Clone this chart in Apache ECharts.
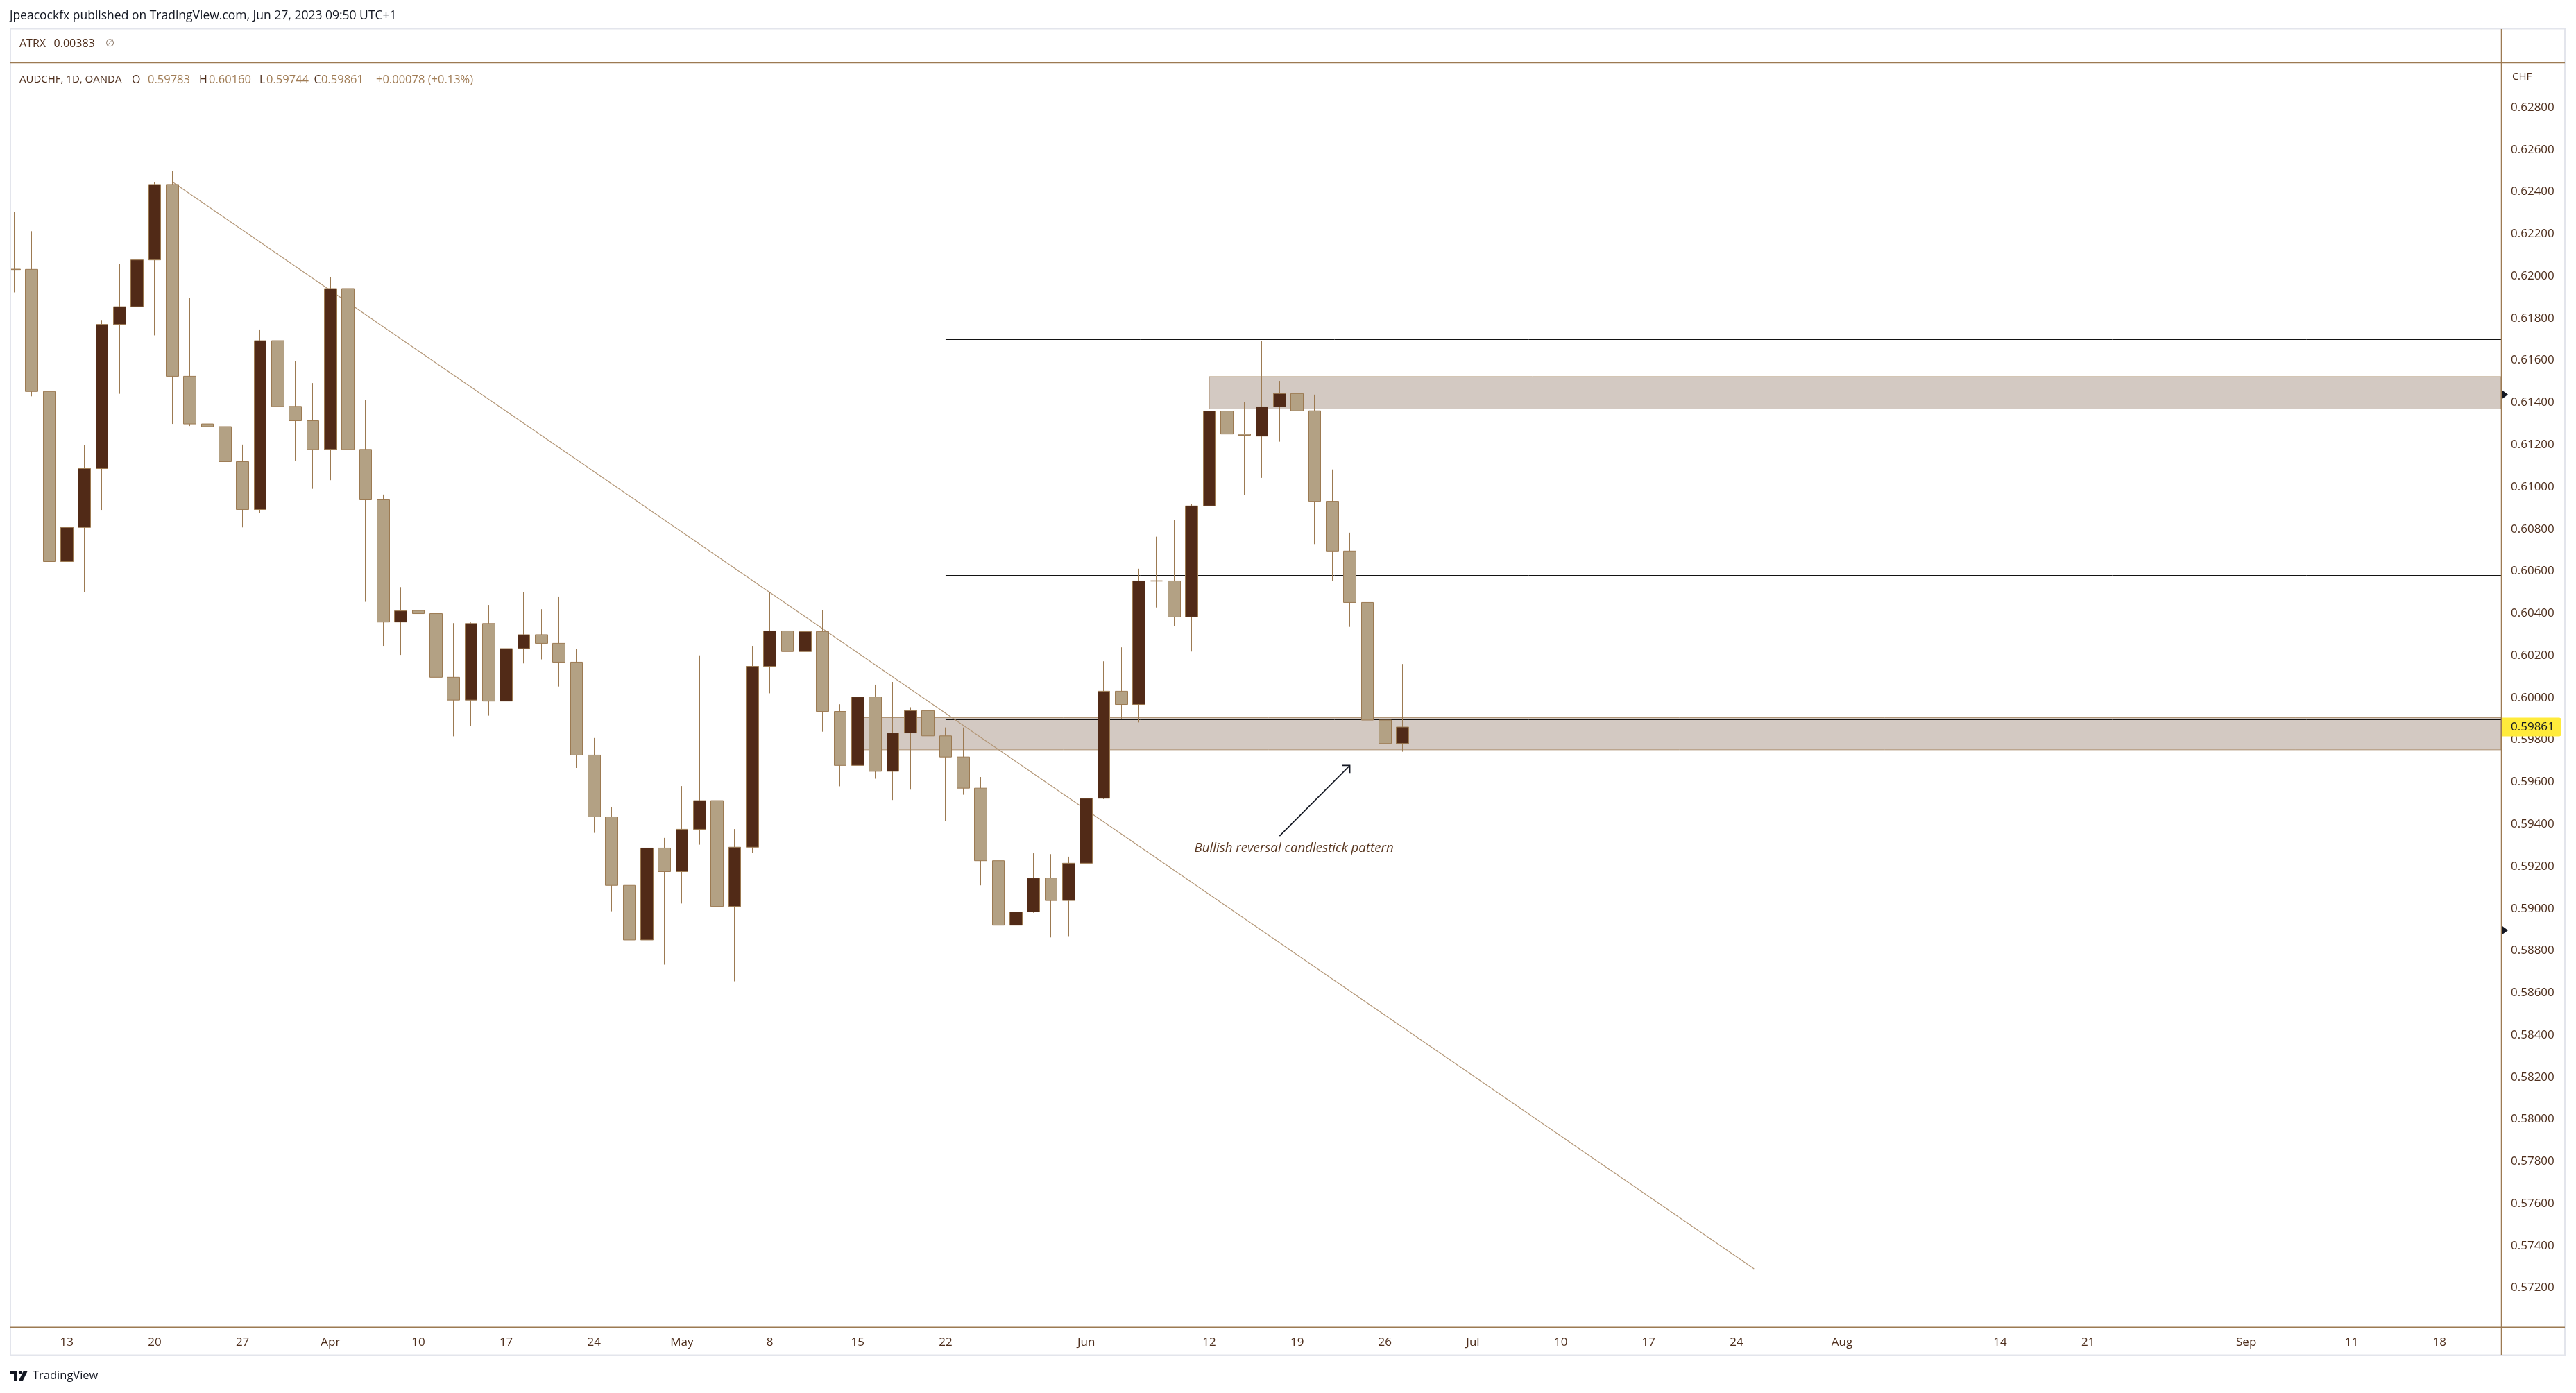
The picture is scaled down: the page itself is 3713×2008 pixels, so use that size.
<!DOCTYPE html>
<html><head><meta charset="utf-8">
<script src="https://cdn.jsdelivr.net/npm/echarts@6/dist/echarts.min.js"></script>
<style>html,body{margin:0;padding:0;background:#fff;}#c{width:3713px;height:2008px;}</style>
</head><body><div id="c"></div>
<script>
// ---------- data ----------
const firstDate = '2023-03-08';
const slotCount = 142; // weekday slots shown on the time axis
const opens  = [0.62033,0.62032,0.61453,0.60646,0.60808,0.61087,0.61771,0.61855,0.62077,0.62435,
                0.61525,0.61299,0.61286,0.61120,0.60893,0.61694,0.61382,0.61314,0.61178,0.61941,
                0.61178,0.60939,0.60359,0.60414,0.60399,0.60097,0.59989,0.60352,0.59984,0.60233,
                0.60299,0.60258,0.60169,0.59728,0.59435,0.59110,0.58851,0.59287,0.59175,0.59376,
                0.59512,0.59010,0.59291,0.60149,0.60317,0.60219,0.60314,0.59935,0.59679,0.60004,
                0.59651,0.59833,0.59939,0.59819,0.59719,0.59571,0.59227,0.58921,0.58984,0.59145,
                0.59038,0.59215,0.59523,0.60031,0.59968,0.60555,0.60554,0.60383,0.60910,0.61360,
                0.61251,0.61241,0.61380,0.61443,0.61361,0.60932,0.60696,0.60452,0.59894,0.59783];
const highs  = [0.62306,0.62213,0.61563,0.61180,0.61198,0.61792,0.62059,0.62314,0.62445,0.62498,
                0.61898,0.61787,0.61425,0.61201,0.61747,0.61762,0.61598,0.61493,0.61994,0.62019,
                0.61412,0.60964,0.60525,0.60513,0.60609,0.60354,0.60357,0.60440,0.60268,0.60500,
                0.60420,0.60480,0.60232,0.59809,0.59480,0.59209,0.59361,0.59335,0.59581,0.60201,
                0.59548,0.59377,0.60246,0.60503,0.60402,0.60509,0.60414,0.59969,0.60018,0.60062,
                0.60075,0.59955,0.60134,0.59859,0.59859,0.59624,0.59262,0.59071,0.59262,0.59258,
                0.59246,0.59717,0.60173,0.60239,0.60612,0.60764,0.60842,0.60918,0.61447,0.61595,
                0.61402,0.61692,0.61503,0.61569,0.61438,0.61083,0.60783,0.60588,0.59956,0.60160];
const lows   = [0.61923,0.61430,0.60556,0.60279,0.60500,0.60891,0.61442,0.61797,0.61719,0.61299,
                0.61289,0.61115,0.60891,0.60808,0.60878,0.61160,0.61125,0.60991,0.61032,0.60989,
                0.60455,0.60246,0.60203,0.60261,0.60059,0.59817,0.59865,0.59915,0.59820,0.60163,
                0.60182,0.60053,0.59667,0.59359,0.58987,0.58513,0.58797,0.58734,0.59024,0.59303,
                0.59005,0.58655,0.59264,0.60021,0.60158,0.60040,0.59839,0.59580,0.59669,0.59616,
                0.59515,0.59564,0.59752,0.59416,0.59540,0.59110,0.58849,0.58781,0.58980,0.58863,
                0.58869,0.59077,0.59519,0.59900,0.59883,0.60428,0.60340,0.60219,0.60850,0.61167,
                0.60961,0.61043,0.61215,0.61133,0.60729,0.60554,0.60336,0.59766,0.59505,0.59744];
const closes = [0.62031,0.61453,0.60646,0.60808,0.61087,0.61771,0.61855,0.62077,0.62435,0.61525,
                0.61299,0.61286,0.61120,0.60893,0.61694,0.61382,0.61314,0.61178,0.61941,0.61178,
                0.60939,0.60359,0.60412,0.60399,0.60097,0.59989,0.60352,0.59984,0.60233,0.60299,
                0.60258,0.60169,0.59728,0.59435,0.59110,0.58851,0.59287,0.59175,0.59376,0.59512,
                0.59010,0.59291,0.60149,0.60317,0.60219,0.60314,0.59935,0.59679,0.60004,0.59651,
                0.59833,0.59939,0.59819,0.59719,0.59571,0.59227,0.58921,0.58984,0.59145,0.59038,
                0.59215,0.59523,0.60031,0.59968,0.60554,0.60553,0.60383,0.60910,0.61360,0.61251,
                0.61245,0.61380,0.61443,0.61361,0.60932,0.60696,0.60452,0.59894,0.59783,0.59861];
const tickLabels = [['2023-03-13','13'],['2023-03-20','20'],['2023-03-27','27'],['2023-04-03','Apr'],
  ['2023-04-10','10'],['2023-04-17','17'],['2023-04-24','24'],['2023-05-01','May'],['2023-05-08','8'],
  ['2023-05-15','15'],['2023-05-22','22'],['2023-06-01','Jun'],['2023-06-12','12'],['2023-06-19','19'],
  ['2023-06-26','26'],['2023-07-03','Jul'],['2023-07-10','10'],['2023-07-17','17'],['2023-07-24','24'],
  ['2023-08-01','Aug'],['2023-08-14','14'],['2023-08-21','21'],['2023-09-01','Sep'],['2023-09-11','11'],
  ['2023-09-18','18']];
const priceMin = 0.570, priceMax = 0.630, priceStep = 0.002;
const levelPrices = [0.61701, 0.60583, 0.60243, 0.59897, 0.58781];
const levelStartIdx = 53;
const zoneStarts = [48, 68];
const zoneTops = [0.59906, 0.61523];
const zoneBottoms = [0.59753, 0.61370];
const trendIdx = [9, 99];
const trendPrice = [0.62448, 0.57291];
const arrowIdx = [72, 76];
const arrowPrice = [0.59344, 0.59679];
const noteIdx = 72.82, notePrice = 0.59286;
const noteText = 'Bullish reversal candlestick pattern';
const markerPrices = [0.61438, 0.58897];
const lastPrice = 0.59861;

// ---------- build ----------
function weekdays(start, n){
  const out=[]; const d=new Date(start+'T00:00:00Z');
  while(out.length<n){ const w=d.getUTCDay(); if(w!==0&&w!==6) out.push(d.toISOString().slice(0,10)); d.setUTCDate(d.getUTCDate()+1); }
  return out;
}
const dates = weekdays(firstDate, slotCount);
const labelMap = new Map(tickLabels);
const candleData = opens.map((o,i)=>[o, closes[i], lows[i], highs[i]]);
const rightIdx = slotCount - 0.5;

const FONT = "'Open Sans', 'Noto Sans', sans-serif";
const TXT = '#4e2e1c', TAN = '#a07c55', BRN = '#9c7a52';

const chart = echarts.init(document.getElementById('c'), null, {renderer:'canvas'});
const gridLeft = 7.6, gridRight = 3605, gridTop = 94.2, gridBottom = 1917.4;

function txt(x, y, text, fill, size, extra){
  return Object.assign({type:'text', z:100, silent:true, x:x, y:y,
    style:Object.assign({text:text, fill:fill, fontSize:size, fontFamily:FONT, verticalAlign:'middle'}, extra||{})});
}

const option = {
  animation:false,
  backgroundColor:'#ffffff',
  grid:{left:gridLeft, top:gridTop, width:gridRight-gridLeft, height:gridBottom-gridTop, containLabel:false},
  xAxis:[
    {type:'category', data:dates, boundaryGap:true,
     axisLine:{show:false}, axisTick:{show:false}, splitLine:{show:false},
     axisLabel:{interval:(i,v)=>labelMap.has(v), formatter:(v)=>labelMap.get(v)||'',
       color:TXT, fontSize:17, fontFamily:FONT, margin:9, hideOverlap:false}},
    {type:'value', min:-0.5, max:rightIdx, show:false}
  ],
  yAxis:[{type:'value', position:'right', min:priceMin, max:priceMax, interval:priceStep,
    axisLine:{show:false}, axisTick:{show:false}, splitLine:{show:false},
    axisLabel:{color:TXT, fontSize:17, fontFamily:FONT, margin:14,
      formatter:(v)=> (v<priceMin+priceStep/2 || v>priceMax-priceStep/2) ? '' : v.toFixed(5)}}],
  series:[
    {type:'custom', name:'zones', xAxisIndex:1, yAxisIndex:0, z:1, silent:true,
     data: zoneStarts.map((s,i)=>[s, zoneTops[i], zoneBottoms[i]]),
     renderItem:(p, api)=>{
       const a=api.coord([api.value(0), api.value(1)]), b=api.coord([rightIdx, api.value(2)]);
       return {type:'rect', shape:{x:a[0], y:a[1], width:b[0]-a[0], height:b[1]-a[1]},
         style:{fill:'#d3c9c2', stroke:'#a98c6b', lineWidth:1}};
     }},
    {type:'custom', name:'levels', xAxisIndex:1, yAxisIndex:0, z:1, silent:true,
     data: levelPrices.map(p=>[levelStartIdx, p]),
     renderItem:(p, api)=>{
       const a=api.coord([api.value(0), api.value(1)]), b=api.coord([rightIdx, api.value(1)]);
       const y=Math.round(a[1])+0.5;
       return {type:'line', shape:{x1:a[0], y1:y, x2:b[0], y2:y}, style:{stroke:'#131313', lineWidth:1}};
     }},
    {type:'custom', name:'trend', xAxisIndex:1, yAxisIndex:0, z:1, silent:true,
     data:[[trendIdx[0], trendPrice[0], trendIdx[1], trendPrice[1]]],
     renderItem:(p, api)=>{
       const a=api.coord([api.value(0), api.value(1)]), b=api.coord([api.value(2), api.value(3)]);
       return {type:'line', shape:{x1:a[0], y1:a[1], x2:b[0], y2:b[1]}, style:{stroke:'#b39676', lineWidth:1.2}};
     }},
    {type:'candlestick', name:'AUDCHF', xAxisIndex:0, yAxisIndex:0, z:3, data:candleData, barWidth:18,
     itemStyle:{color:'#512a17', color0:'#b3a184', borderColor:BRN, borderColor0:BRN, borderWidth:1}},
    {type:'custom', name:'arrow', xAxisIndex:1, yAxisIndex:0, z:4, silent:true,
     data:[[arrowIdx[0], arrowPrice[0], arrowIdx[1], arrowPrice[1]]],
     renderItem:(p, api)=>{
       const a=api.coord([api.value(0), api.value(1)]), b=api.coord([api.value(2), api.value(3)]);
       const ang=Math.atan2(b[1]-a[1], b[0]-a[0]), L=11, h=Math.PI/4;
       const p1=[b[0]-L*Math.cos(ang-h), b[1]-L*Math.sin(ang-h)];
       const p2=[b[0]-L*Math.cos(ang+h), b[1]-L*Math.sin(ang+h)];
       return {type:'group', children:[
         {type:'line', shape:{x1:a[0], y1:a[1], x2:b[0], y2:b[1]}, style:{stroke:'#131722', lineWidth:1.6}},
         {type:'polyline', shape:{points:[p1, b, p2]}, style:{stroke:'#131722', lineWidth:1.6, fill:null}}]};
     }},
    {type:'custom', name:'note', xAxisIndex:1, yAxisIndex:0, z:4, silent:true,
     data:[[noteIdx, notePrice]],
     renderItem:(p, api)=>{
       const a=api.coord([api.value(0), api.value(1)]);
       return {type:'text', x:a[0], y:a[1], style:{text:noteText, fill:'#5a3822', fontSize:18.7,
         fontStyle:'italic', fontFamily:FONT, align:'center', verticalAlign:'middle'}};
     }},
    {type:'custom', name:'markers', xAxisIndex:1, yAxisIndex:0, z:5, silent:true, clip:false,
     data: markerPrices.map(p=>[rightIdx, p]),
     renderItem:(p, api)=>{
       const a=api.coord([api.value(0), api.value(1)]);
       return {type:'polygon', shape:{points:[[a[0]+0.5, a[1]-7],[a[0]+10, a[1]],[a[0]+0.5, a[1]+7]]}, style:{fill:'#131722'}};
     }},
    {type:'custom', name:'lastPrice', xAxisIndex:1, yAxisIndex:0, z:5, silent:true, clip:false,
     data:[[rightIdx, lastPrice]],
     renderItem:(p, api)=>{
       const a=api.coord([api.value(0), api.value(1)]);
       return {type:'group', children:[
         {type:'rect', shape:{x:a[0]+0.5, y:a[1]-13.5, width:86, height:27, r:[0,3,3,0]}, style:{fill:'#ffeb3b'}},
         {type:'text', x:a[0]+14, y:a[1], style:{text:api.value(1).toFixed(5), fill:'#131722', fontSize:17,
           fontFamily:FONT, align:'left', verticalAlign:'middle'}}]};
     }}
  ],
  graphic:[
    {type:'rect', z:100, silent:true, shape:{x:0, y:0, width:14.5, height:2008}, style:{fill:'#ffffff'}},
    {type:'rect', z:100, silent:true, shape:{x:3698, y:0, width:15, height:2008}, style:{fill:'#ffffff'}},
    {type:'rect', z:100, silent:true, shape:{x:15, y:41.5, width:3682, height:1912}, style:{fill:null, stroke:'#e3e5ec', lineWidth:2}},
    {type:'line', z:100, silent:true, shape:{x1:15, y1:90.5, x2:3697, y2:90.5}, style:{stroke:BRN, lineWidth:1.5}},
    {type:'line', z:100, silent:true, shape:{x1:15, y1:1913.5, x2:3697, y2:1913.5}, style:{stroke:BRN, lineWidth:2}},
    {type:'line', z:100, silent:true, shape:{x1:3605.5, y1:42, x2:3605.5, y2:1953}, style:{stroke:BRN, lineWidth:1.5}},
    txt(14, 23, 'jpeacockfx published on TradingView.com, Jun 27, 2023 09:50 UTC+1', '#131722', 17.5),
    txt(28, 63, 'ATRX', TXT, 16),
    txt(77.6, 63, '0.00383', TXT, 16),
    txt(152, 63, '\u2205', '#8d7a6a', 15),
    txt(28, 115, 'AUDCHF, 1D, OANDA', TXT, 15),
    txt(190, 115, 'O', TXT, 16),
    txt(213, 115, '0.59783', TAN, 16.5),
    txt(287, 115, 'H', TXT, 16),
    txt(301, 115, '0.60160', TAN, 16.5),
    txt(374, 115, 'L', TXT, 16),
    txt(384, 115, '0.59744', TAN, 16.5),
    txt(452.6, 115, 'C', TXT, 16),
    txt(463, 115, '0.59861', TAN, 16.5),
    txt(542, 115, '+0.00078 (+0.13%)', TAN, 16.5),
    txt(3621, 111, 'CHF', TXT, 15),
    {type:'rect', z:100, silent:true, shape:{x:14, y:1976, width:11, height:4.5}, style:{fill:'#131722'}},
    {type:'rect', z:100, silent:true, shape:{x:20, y:1976, width:5, height:14}, style:{fill:'#131722'}},
    {type:'circle', z:100, silent:true, shape:{cx:29.5, cy:1978.5, r:2.6}, style:{fill:'#131722'}},
    {type:'polygon', z:100, silent:true, shape:{points:[[34,1976],[40,1976],[33,1990],[27,1990]]}, style:{fill:'#131722'}},
    txt(47, 1983, 'TradingView', '#131722', 16.5)
  ]
};
chart.setOption(option);
</script></body></html>
